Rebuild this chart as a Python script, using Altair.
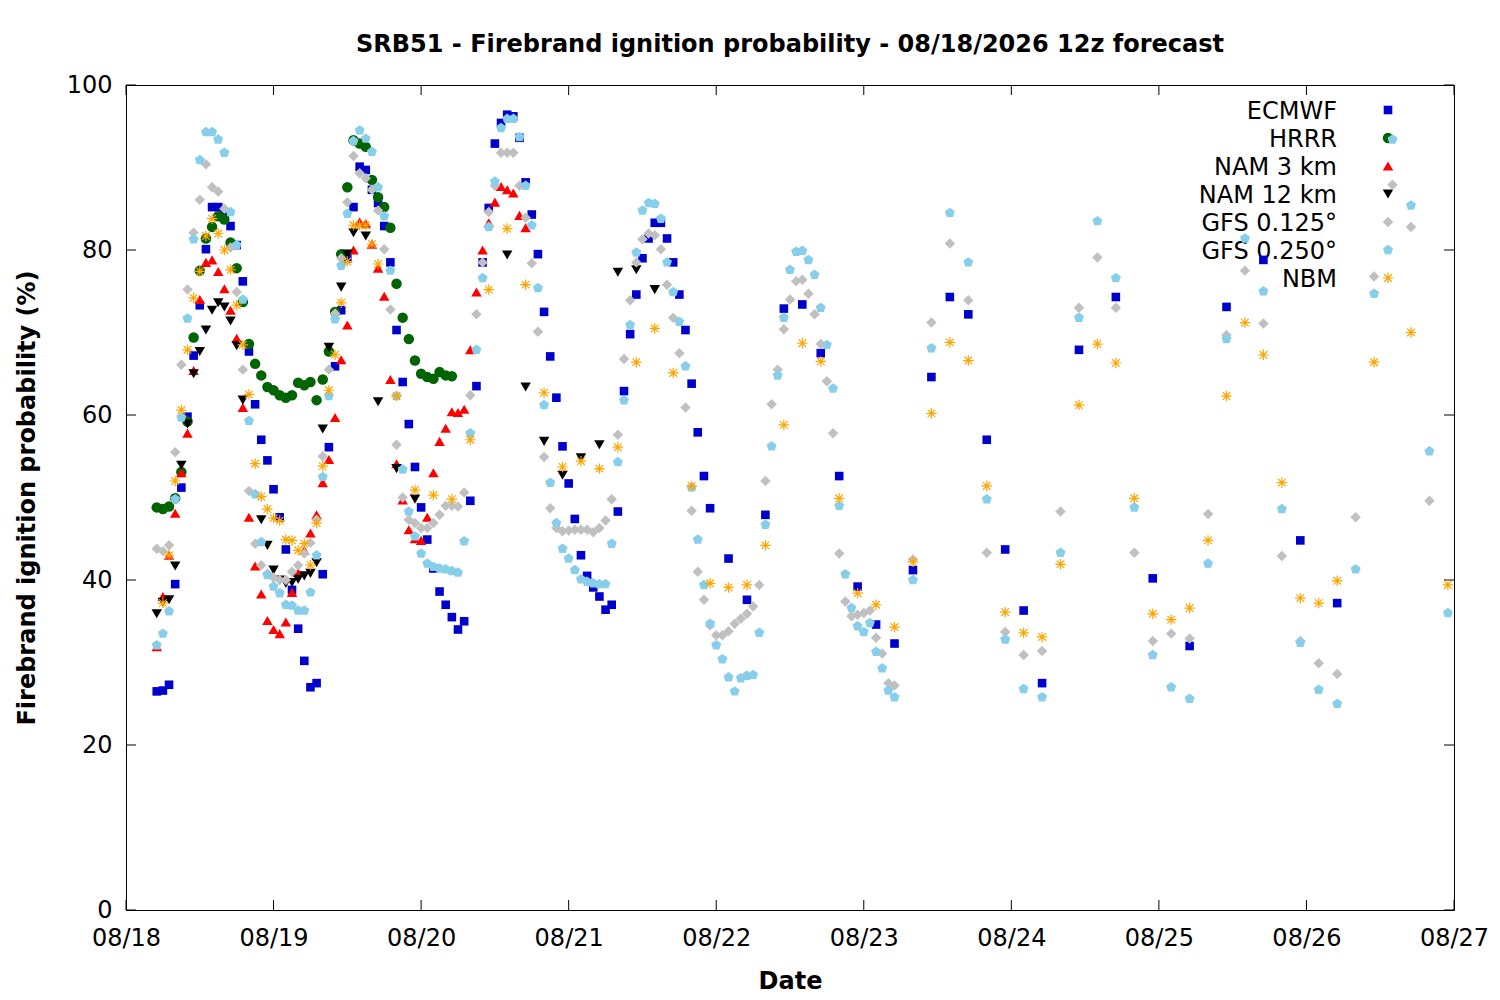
import altair as alt
import pandas as pd

TITLE = "SRB51 - Firebrand ignition probability - 08/18/2026 12z forecast"
FONT = "DejaVu Sans"
FS = 24
START = pd.Timestamp("2026-08-18 05:00:00")

MODELS = ["ECMWF", "HRRR", "NAM 3 km", "NAM 12 km", "GFS 0.125°", "GFS 0.250°", "NBM"]
FILLS = ["#0000cc", "#006400", "#ff0000", "#000000", "#c0c0c0", "#87ceeb", "transparent"]
STROKES = ["transparent"] * 6 + ["#ffa500"]
SHAPES = [
    "M-0.82,-0.82L0.82,-0.82L0.82,0.82L-0.82,0.82Z",
    "circle",
    "triangle-up",
    "triangle-down",
    "diamond",
    "M0,-1L0.951,-0.309L0.588,0.809L-0.588,0.809L-0.951,-0.309Z",
    "M-1,0L1,0M0,-1L0,1M-0.72,-0.72L0.72,0.72M-0.72,0.72L0.72,-0.72",
]

Y_TICKS = [0, 20, 40, 60, 80, 100]
DAYS = list(range(18, 28))

# ---------------- data (hours after 08/18 05:00) ----------------
ecmwf_hours = list(range(0, 91)) + list(range(93, 145, 3)) + list(range(150, 193, 6))
ecmwf_vals = [
    26.5, 26.6, 27.3, 39.5, 51.2, 59.8, 67.2, 73.3, 80.1, 85.2,
    85.2, 84.5, 82.9, 80.6, 76.2, 67.7, 61.3, 57.0, 54.5, 51.0,
    47.6, 43.7, 38.8, 34.1, 30.2, 27.0, 27.5, 40.7, 56.1, 65.9,
    72.7, 79.0, 85.2, 90.1, 89.7, 87.3, 85.7, 82.9, 78.5, 70.3,
    64.0, 58.9, 53.7, 48.8, 44.9, 41.4, 38.6, 37.0, 35.5, 34.0,
    35.0, 49.6, 63.5, 78.5, 85.1, 92.9, 95.4, 96.4, 96.2, 93.6,
    88.2, 84.3, 79.5, 72.5, 67.1, 62.1, 56.2, 51.7, 47.4, 43.0,
    40.5, 39.1, 38.0, 36.4, 37.0, 48.3, 62.9, 69.8, 74.6, 79.0,
    81.4, 83.3, 83.3, 81.4, 78.5, 74.6, 70.3, 63.8, 57.9, 52.6,
    48.7,
    42.6, 37.6, 47.9, 72.9, 73.4, 67.5, 52.6, 39.2, 34.6, 32.3,
    41.2, 64.6, 74.3, 72.2, 57.0, 43.7, 36.3, 27.5,
    67.9, 74.3, 40.2, 32.0, 73.1, 78.8, 44.8, 37.2,
]

hrrr_hours = list(range(0, 49))
hrrr_vals = [
    48.8, 48.6, 48.9, 49.9, 53.1, 59.2, 69.4, 77.5, 81.4, 82.8,
    84.1, 83.7, 80.9, 77.8, 73.7, 68.6, 66.2, 64.8, 63.4, 63.0,
    62.4, 62.1, 62.4, 63.9, 63.6, 64.0, 61.8, 64.3, 67.7, 72.5,
    79.5, 87.6, 93.3, 92.9, 92.5, 88.5, 86.4, 85.2, 82.7, 75.9,
    71.8, 69.2, 66.6, 65.0, 64.6, 64.4, 65.2, 64.8, 64.7,
]

nam3_hours = list(range(0, 61))
nam3_vals = [
    31.9, 38.0, 43.0, 48.1, 53.0, 57.8, 65.4, 74.0, 78.5, 78.8,
    77.4, 75.3, 72.7, 69.3, 60.9, 47.6, 41.7, 38.3, 35.1, 34.0,
    33.5, 34.9, 38.5, 40.9, 43.6, 45.7, 47.9, 51.8, 54.6, 59.7,
    66.7, 70.9, 80.0, 83.4, 83.2, 80.7, 77.8, 74.4, 64.3, 54.1,
    49.7, 46.1, 45.0, 44.8, 47.6, 53.0, 56.8, 58.4, 60.4, 60.3,
    60.7, 67.9, 74.9, 80.0, 83.3, 85.8, 87.7, 87.3, 86.9, 84.2,
    82.7,
]

nam12_hours = (list(range(0, 15)) + list(range(17, 29)) + [30, 31, 32, 34, 36, 39, 42]
               + [57, 60, 63, 66, 69, 72, 75, 78, 81])
nam12_vals = [
    35.9, 37.3, 37.6, 41.7, 53.9, 58.9, 65.0, 67.7, 70.3, 72.7,
    73.6, 73.1, 71.4, 68.4, 61.8,
    47.3, 44.2, 41.2, 40.0, 39.6, 39.7, 40.1, 40.5, 40.8, 42.1, 58.3, 68.2,
    75.5, 79.5, 82.1, 81.7, 61.6, 53.5, 49.8,
    79.4, 63.4, 56.8, 52.7, 54.8, 56.4, 77.3, 77.6, 75.2,
]

gfs125_hours = list(range(0, 121)) + list(range(123, 208, 3))
gfs125_vals = [
    43.8, 43.5, 44.2, 55.5, 66.1, 75.2, 82.1, 86.1, 90.4, 87.6,
    87.1, 85.0, 80.3, 74.9, 65.5, 50.8, 44.4, 41.8, 40.8, 40.3,
    40.0, 40.0, 41.0, 41.8, 43.2, 44.5, 47.3, 55.0, 65.5, 72.3,
    79.0, 85.8, 91.4, 89.3, 88.7, 87.3, 84.8, 80.1, 72.8, 56.4,
    50.0, 47.3, 46.9, 46.3, 46.3, 46.9, 47.9, 49.0, 49.0, 48.9,
    50.6, 62.4, 72.2, 78.5, 84.6, 87.8, 91.8, 91.8, 91.8, 87.8,
    83.9, 78.4, 70.1, 54.9, 48.7, 46.3, 45.9, 46.0, 46.1, 46.1,
    46.1, 45.8, 46.3, 47.2, 49.8, 57.6, 66.8, 73.9, 78.5, 81.3,
    82.0, 81.8, 80.1, 75.8, 71.8, 67.5, 60.9, 48.4, 41.0, 37.6,
    34.5, 33.3, 33.3, 33.8, 34.7, 35.3, 35.9, 36.8, 39.4, 52.0,
    61.3, 65.5, 70.4, 74.0, 76.2, 76.4, 74.7, 72.2, 68.6, 64.1,
    57.8, 43.2, 37.4, 35.6, 35.8, 36.0, 36.3, 33.0, 31.1, 27.5,
    27.2,
    42.5, 71.2, 80.8, 73.9, 43.3, 33.7, 30.9, 31.4, 48.3, 73.0,
    79.1, 73.0, 43.3, 32.6, 33.5, 32.9, 48.0, 69.7, 77.5, 71.1,
    42.9, 32.6, 29.9, 28.6, 47.6, 76.8, 87.9, 82.8, 49.6,
]

gfs250_hours = list(range(0, 121)) + list(range(123, 211, 3))
gfs250_vals = [
    32.1, 33.5, 36.2, 49.8, 59.7, 71.7, 81.3, 90.9, 94.3, 94.3,
    93.4, 91.8, 84.6, 80.6, 74.0, 59.3, 50.4, 44.6, 40.6, 39.2,
    38.4, 37.0, 36.9, 36.3, 36.3, 38.5, 43.0, 52.5, 62.3, 71.6,
    78.1, 84.4, 93.2, 94.5, 93.5, 91.9, 87.6, 84.1, 77.5, 62.3,
    53.4, 48.3, 45.3, 43.2, 42.0, 41.6, 41.4, 41.3, 41.1, 40.9,
    44.7, 57.8, 67.9, 76.6, 82.8, 88.3, 94.8, 95.9, 95.9, 93.7,
    87.8, 83.0, 75.4, 61.2, 51.8, 46.9, 43.8, 42.6, 41.2, 40.1,
    39.8, 39.6, 39.5, 39.5, 44.4, 54.3, 61.8, 70.9, 79.7, 84.8,
    85.7, 85.6, 83.8, 78.5, 74.9, 71.3, 65.9, 51.2, 44.9, 39.4,
    34.7, 32.1, 30.4, 28.2, 26.5, 28.1, 28.4, 28.5, 33.6, 46.7,
    56.2, 64.8, 71.8, 77.6, 79.8, 79.9, 78.8, 77.0, 73.0, 68.5,
    63.2, 49.0, 40.7, 36.6, 34.4, 33.7, 34.8, 31.3, 29.3, 26.6,
    25.8,
    40.0, 68.1, 84.5, 78.5, 49.8, 32.8, 26.8, 25.8, 43.3, 71.8,
    83.5, 76.6, 48.8, 30.9, 27.0, 25.6, 42.0, 69.2, 81.4, 75.0,
    48.6, 32.4, 26.7, 25.0, 41.3, 74.7, 93.4, 85.4, 55.6, 36.0,
]

nbm_hours = list(range(1, 37)) + list(range(39, 193, 3)) + [198, 204, 210]
nbm_vals = [
    37.2, 43.0, 52.0, 60.6, 67.9, 74.2, 77.4, 81.7, 83.8, 82.0,
    80.0, 77.6, 73.3, 68.5, 62.5, 54.1, 50.1, 48.6, 47.5, 47.2,
    44.9, 44.8, 43.6, 44.4, 41.8, 46.9, 53.8, 63.0, 67.3, 73.6,
    78.6, 83.0, 83.0, 83.0, 80.7, 78.3,
    62.3, 50.9, 50.3, 49.8, 57.0, 75.2, 82.6, 75.8, 62.7, 53.7,
    54.4, 53.5, 56.1, 66.4, 70.5, 65.1, 51.4, 39.6, 39.1, 39.4,
    44.2, 58.8, 68.7, 66.5, 49.9, 38.4, 37.0, 34.3, 42.2, 60.2,
    68.8, 66.6, 51.4, 36.1, 33.6, 33.1, 41.9, 61.2, 68.6, 66.3,
    49.9, 35.9, 35.2, 36.6, 44.8, 62.3, 71.2, 67.3, 51.8, 37.8,
    37.2, 39.9,
    66.4, 70.0, 39.4,
]


def frame(name, hours, vals):
    assert len(hours) == len(vals), (name, len(hours), len(vals))
    t = START + pd.to_timedelta(hours, unit="h")
    return pd.DataFrame({"model": name,
                         "time": t.strftime("%Y-%m-%dT%H:%M:%SZ"),
                         "value": vals})


df = pd.concat([
    frame("ECMWF", ecmwf_hours, ecmwf_vals),
    frame("HRRR", hrrr_hours, hrrr_vals),
    frame("NAM 3 km", nam3_hours, nam3_vals),
    frame("NAM 12 km", nam12_hours, nam12_vals),
    frame("GFS 0.125°", gfs125_hours, gfs125_vals),
    frame("GFS 0.250°", gfs250_hours, gfs250_vals),
    frame("NBM", nbm_hours, nbm_vals),
], ignore_index=True)

W, H = 1328, 825
TICK = 10

XSCALE = alt.Scale(type="utc", domain=[alt.DateTime(year=2026, month=8, date=18, utc=True),
                                       alt.DateTime(year=2026, month=8, date=27, utc=True)])
XAXIS = alt.Axis(values=[alt.DateTime(year=2026, month=8, date=d, utc=True) for d in DAYS],
                 format="%m/%d", ticks=False, domain=False, grid=False,
                 labelFont=FONT, labelFontSize=FS, labelColor="black", labelPadding=16,
                 labelFlush=False, labelOverlap=False,
                 titleFont=FONT, titleFontSize=FS, titleFontWeight="bold", titleColor="black",
                 titlePadding=19)
YSCALE = alt.Scale(domain=[0, 100], nice=False, zero=False)
YAXIS = alt.Axis(values=Y_TICKS, ticks=False, domain=False, grid=False,
                 labelFont=FONT, labelFontSize=FS, labelColor="black", labelPadding=14,
                 titleFont=FONT, titleFontSize=FS, titleFontWeight="bold", titleColor="black",
                 titlePadding=27)

X = alt.X("time:T", scale=XSCALE, axis=XAXIS, title="Date")
Y = alt.Y("value:Q", scale=YSCALE, axis=YAXIS, title="Firebrand ignition probability (%)")

ytick_df = pd.DataFrame({"value": Y_TICKS})
xtick_df = pd.DataFrame({"time": [f"2026-08-{d}T00:00:00Z" for d in DAYS]})

layers = [
    alt.Chart(ytick_df).mark_rule(color="black").encode(y=Y, x=alt.value(0), x2=alt.value(TICK)),
    alt.Chart(ytick_df).mark_rule(color="black").encode(y=Y, x=alt.value(W - TICK), x2=alt.value(W)),
    alt.Chart(xtick_df).mark_rule(color="black").encode(x=X, y=alt.value(H - TICK), y2=alt.value(H)),
    alt.Chart(xtick_df).mark_rule(color="black").encode(x=X, y=alt.value(0), y2=alt.value(TICK)),
]

# key (gnuplot style: label on the left, symbol on the right)
KEY_LABEL_X, KEY_SYMBOL_X, KEY_Y0, KEY_DY = 1211, 1262, 25, 28
for i, m in enumerate(MODELS):
    kdf = pd.DataFrame({"label": [m]})
    ky = KEY_Y0 + KEY_DY * i
    layers.append(
        alt.Chart(kdf).mark_text(align="right", baseline="middle", font=FONT, fontSize=FS,
                                 color="black", dy=2).encode(
            text="label:N", x=alt.value(KEY_LABEL_X), y=alt.value(ky)))
    layers.append(
        alt.Chart(kdf).mark_point(opacity=1, size=110, strokeWidth=1.2).encode(
            x=alt.value(KEY_SYMBOL_X), y=alt.value(ky),
            fill=alt.value(FILLS[i]), stroke=alt.value(STROKES[i]), shape=alt.value(SHAPES[i])))

points = alt.Chart(df).mark_point(opacity=1, size=110, strokeWidth=1.2).encode(
    x=X,
    y=Y,
    fill=alt.Fill("model:N", scale=alt.Scale(domain=MODELS, range=FILLS), legend=None),
    stroke=alt.Stroke("model:N", scale=alt.Scale(domain=MODELS, range=STROKES), legend=None),
    shape=alt.Shape("model:N", scale=alt.Scale(domain=MODELS, range=SHAPES), legend=None),
)
layers.append(points)

chart = alt.layer(*layers).properties(
    width=W, height=H,
    title=alt.TitleParams(TITLE, font=FONT, fontSize=FS, fontWeight="bold", color="black",
                          anchor="middle", offset=16),
    autosize=alt.AutoSizeParams(type="none"),
    padding={"left": 118, "top": 77, "right": 38, "bottom": 88},
    background="white",
).configure_view(stroke="black", strokeWidth=1)

chart.save("out.html", embed_options={"renderer": "svg", "actions": False})
